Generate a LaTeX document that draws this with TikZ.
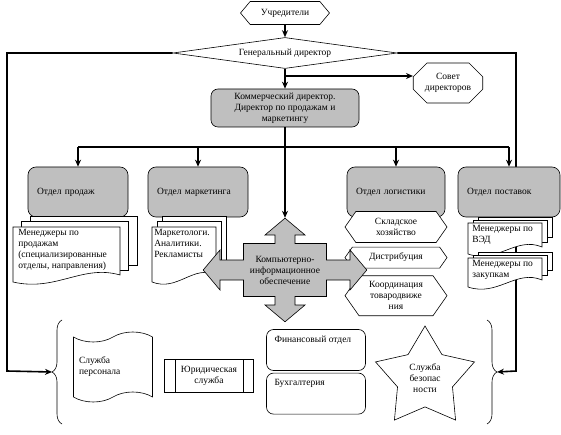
\documentclass[tikz,border=0pt]{standalone}
\usepackage{fontspec}
\setmainfont{Liberation Serif}
\usetikzlibrary{arrows,arrows.meta}
\usetikzlibrary{positioning}
\usetikzlibrary{calc}
\usetikzlibrary{shapes.geometric,shapes.misc,shapes.symbols,shapes.arrows}
\usetikzlibrary{decorations.pathreplacing}

% one sheet with a wavy bottom edge
\newcommand{\docpage}[4]{%
  \draw[fill=white] (#1,#2) -- (#3,#2) -- (#3,#4-5)
    .. controls ({#3-0.35*(#3-#1)},#4-16) and ({#1+0.4*(#3-#1)},#4+12) .. (#1,#4+2) -- cycle;}
% a stack of three sheets
\newcommand{\multidoc}[6]{%
  \draw[fill=white] ({#1+2*#5},{#2-2*#6}) rectangle ({#3+2*#5},#4-15);
  \draw[fill=white] ({#1+#5},{#2-#6}) rectangle ({#3+#5},#4-10);
  \docpage{#1}{#2}{#3}{#4}}

\begin{document}
\begin{tikzpicture}[x=1pt,y=-1pt,>={Stealth[length=7pt,width=6pt]},line width=0.6pt,
                    font=\fontsize{9.5}{11}\selectfont]
	\tikzstyle{grey box}=[draw,fill=black!25,rounded corners=8pt,minimum width=100pt,minimum height=50pt,
	                      text width=82pt,inner xsep=9pt,align=left]
	\tikzstyle{conn}=[->,line width=1.6pt]
	\tikzstyle{hexa}=[draw,fill=white,signal,signal to=west and east,signal pointer angle=110,
	                  minimum width=102pt,align=center,inner sep=1pt]
	\tikzstyle{doctext}=[anchor=north west,align=left,inner sep=1pt]
	\tikzstyle{plain}=[draw,fill=white,rounded corners=7pt,minimum width=99pt,minimum height=41pt]
	\tikzstyle{inner label}=[anchor=north west,inner sep=0pt,xshift=8pt,yshift=-6pt]

	\useasboundingbox (0,0) rectangle (561,435);

	\node[draw,signal,signal to=west and east,signal pointer angle=100,minimum width=89pt,
	      minimum height=23pt,inner sep=1pt] (uch) at (285,13) {Учредители};
	\node[draw,diamond,aspect=7,minimum width=224pt,minimum height=31pt,inner sep=0pt] (gd) at (285,53) {Генеральный директор};
	\node[draw,chamfered rectangle,chamfered rectangle xsep=12pt,minimum width=65pt,minimum height=40pt,
	      align=center,inner sep=1pt] (sd) at (448,83) {Совет\\директоров};
	\node[draw,fill=black!25,rounded corners=7pt,minimum width=148pt,minimum height=38pt,
	      align=center,inner sep=1pt] (kd) at (285,108) {Коммерческий директор.\\Директор по продажам и\\маркетингу};

	\coordinate (branch) at (285,76);
	\coordinate (bar) at (285,147);
	\coordinate (lturn) at (7,371);
	\coordinate (rturn) at (516,371);
	\coordinate (lbtip) at (52,372);
	\coordinate (rbtip) at (497,372);

	\draw[conn] (uch) -- (gd);
	\draw[conn] (gd) -- (kd);
	\draw[conn] (branch) -- (branch -| sd.west);
	\draw[conn] (gd.west) -| (lturn) -- (lbtip);
	\draw[conn] (gd.east) -| (rturn) -- (rbtip);

	% departments
	\node[grey box] (op) at (78,192) {Отдел продаж};
	\node[grey box] (om) at (198,192) {Отдел маркетинга};
	\node[grey box,minimum width=98pt,text width=80pt] (ol) at (396,192) {Отдел логистики};
	\node[grey box,minimum width=102pt,text width=84pt] (ops) at (509,192) {Отдел поставок};

	\draw[line width=1.6pt] (op.north |- bar) -- (ops.north |- bar);
	\foreach \d in {op,om,ol,ops}
		\draw[conn] (\d.north |- bar) -- (\d.north);

	\multidoc{13}{227}{120}{280}{8.5}{5.5}
	\node[doctext] (mp) at (17,228) {Менеджеры по\\продажам\\(специализированные\\отделы, направления)};
	\multidoc{152}{227}{216}{280}{5}{5.5}
	\node[doctext] (mk) at (153,228) {Маркетологи.\\Аналитики.\\Рекламисты};
	\multidoc{468}{223}{542}{252}{5}{3}
	\node[doctext] (mved) at (471,224) {Менеджеры по\\ВЭД};
	\multidoc{468}{258}{542}{285}{5}{3}
	\node[doctext] (mzak) at (471,259) {Менеджеры по\\закупкам};

	\node[hexa,minimum height=31pt] (skl) at (396,227) {Складское\\хозяйство};
	\node[hexa,minimum height=21pt] (dis) [below=4pt of skl] {Дистрибуция};
	\node[hexa,minimum height=40pt] (koo) [below=7pt of dis] {Координация\\товародвиже\\ния};

	\node[draw,fill=black!25,arrow box,arrow box arrows={north:25pt,south:25pt,east:40pt,west:40pt},
	      arrow box shaft width=20pt,arrow box head extend=10pt,arrow box tip angle=100,
	      minimum width=83pt,minimum height=53pt,align=center,inner sep=1pt] (kio) at (285,270)
	      {Компьютерно-\\информационное\\обеспечение};
	\draw[conn] (kd.south) -- (kio.north arrow tip);

	% services
	\draw[decorate,decoration={brace,amplitude=10pt}] (62,424) -- (62,320);
	\draw[decorate,decoration={brace,amplitude=10pt}] (487,320) -- (487,424);

	\node[draw,tape,tape bend height=10pt,minimum width=79pt,minimum height=70pt,text width=68pt,
	      align=left,inner sep=2pt] (sp) at (113,367) {Служба\\персонала};
	\node[draw,minimum width=89pt,minimum height=33pt,align=center,inner sep=1pt] (ju) at (209,376) {Юридическая\\служба};
	\draw ([xshift=11pt]ju.north west) -- ([xshift=11pt]ju.south west);
	\draw ([xshift=-11pt]ju.north east) -- ([xshift=-11pt]ju.south east);
	\node[plain,label={[inner label]north west:Финансовый отдел}] (fin) at (316,350) {};
	\node[plain,label={[inner label]north west:Бухгалтерия}] (bux) [below=2pt of fin] {};
	\node[draw,star,star points=5,star point ratio=1.8,minimum size=104pt,inner sep=0pt,
	      align=center] (sb) at (425,378) {Служба\\безопас\\ности};
\end{tikzpicture}
\end{document}
